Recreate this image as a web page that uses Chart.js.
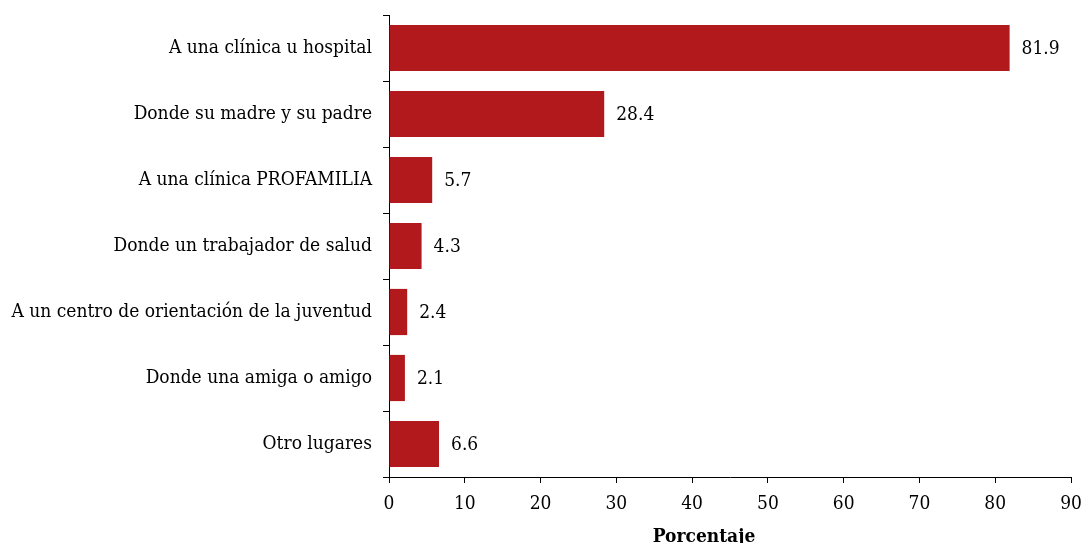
<!DOCTYPE html>
<html>
<head>
<meta charset="utf-8">
<script src="https://cdn.jsdelivr.net/npm/chart.js@4"></script>
<style>
  html, body { margin: 0; padding: 0; background: #fff; }
  #wrap { width: 1084px; height: 543px; }
</style>
</head>
<body>
<div id="wrap"><canvas id="lugarChart"></canvas></div>
<script>
const categories = [
  "A una clínica u hospital",
  "Donde su madre y su padre",
  "A una clínica PROFAMILIA",
  "Donde un trabajador de salud",
  "A un centro de orientación de la juventud",
  "Donde una amiga o amigo",
  "Otro lugares",
];
const values = [81.9, 28.4, 5.7, 4.3, 2.4, 2.1, 6.6];
const xTicks = [0, 10, 20, 30, 40, 50, 60, 70, 80, 90];
const xTitle = "Porcentaje";

const serif = "'DejaVu Serif Condensed', 'DejaVu Serif', serif";

// numbers next to each bar + axis title (sits a bit left of centre in the original)
const valueLabels = {
  id: "valueLabels",
  afterDatasetsDraw(chart) {
    const ctx = chart.ctx;
    const meta = chart.getDatasetMeta(0);
    ctx.save();
    ctx.font = "19px " + serif;
    ctx.fillStyle = "#000";
    ctx.textAlign = "left";
    ctx.textBaseline = "middle";
    meta.data.forEach((bar, i) => {
      ctx.fillText(values[i].toFixed(1), bar.x + 12, bar.y + 1);
    });

    ctx.font = "bold 19px " + serif;
    ctx.textAlign = "center";
    ctx.fillText(xTitle, chart.chartArea.left + 315, chart.height - 6);
    ctx.restore();
  },
};

new Chart(document.getElementById("lugarChart"), {
  type: "bar",
  data: {
    labels: categories,
    datasets: [
      {
        label: xTitle,
        data: values,
        backgroundColor: "#B1191C",
        borderWidth: 0,
        barPercentage: 0.7,
        categoryPercentage: 1,
      },
    ],
  },
  options: {
    indexAxis: "y",
    responsive: true,
    maintainAspectRatio: false,
    animation: false,
    layout: { padding: { top: 15, right: 13, left: 0, bottom: 0 } },
    plugins: {
      legend: { display: false },
      tooltip: { enabled: false },
    },
    scales: {
      x: {
        min: 0,
        max: 90,
        afterBuildTicks: (scale) => {
          scale.ticks = xTicks.map((v) => ({ value: v }));
        },
        afterFit: (scale) => {
          scale.height = 66;
          scale.paddingLeft = 0;
          scale.paddingRight = 0;
        },
        border: { display: true, color: "#000", width: 1 },
        grid: { drawOnChartArea: false, drawTicks: true, tickLength: 6, color: "#000" },
        ticks: { color: "#000", font: { family: serif, size: 19 }, padding: 10, maxRotation: 0 },
      },
      y: {
        afterFit: (scale) => {
          scale.width = 389;
          scale.paddingTop = 0;
          scale.paddingBottom = 0;
        },
        border: { display: true, color: "#000", width: 1 },
        grid: { drawOnChartArea: false, drawTicks: true, tickLength: 6, color: "#000" },
        ticks: { color: "#000", font: { family: serif, size: 19 }, padding: 11, autoSkip: false },
      },
    },
  },
  plugins: [valueLabels],
});
</script>
</body>
</html>
